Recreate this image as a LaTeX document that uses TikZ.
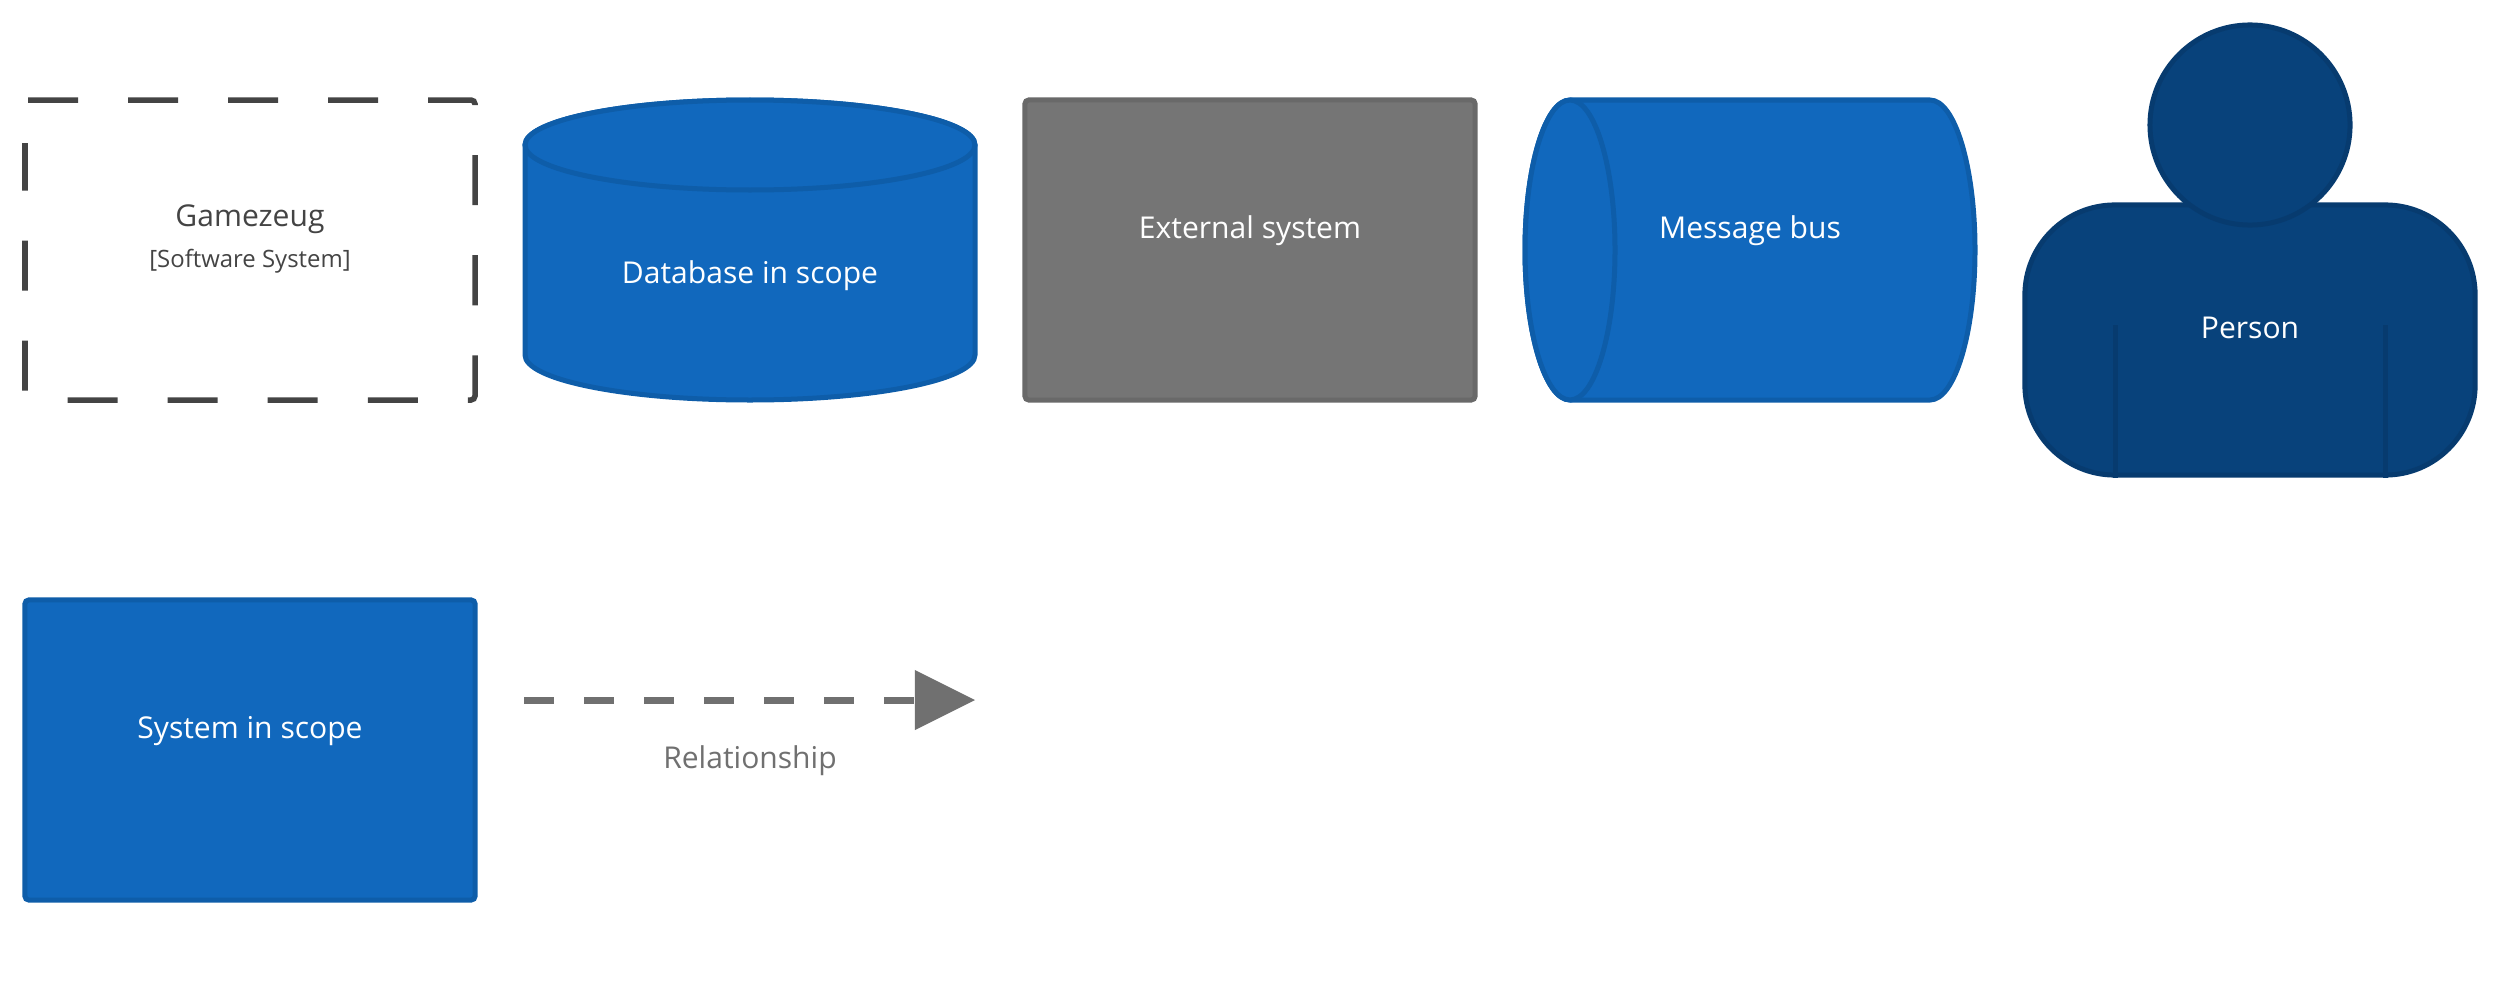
\documentclass[tikz,border=0pt]{standalone}
\usepackage{fontspec}
\setmainfont{Open Sans}
\usetikzlibrary{arrows.meta}
\definecolor{scopeblue}{HTML}{1168BD}
\definecolor{scopeedge}{HTML}{0E5DA9}
\definecolor{extgray}{HTML}{757575}
\definecolor{extedge}{HTML}{696969}
\definecolor{persblue}{HTML}{08427B}
\definecolor{persedge}{HTML}{073B6F}
\definecolor{dashgray}{HTML}{444444}
\definecolor{relgray}{HTML}{707070}
\tikzset{
	boxnode/.style={rectangle,rounded corners=0.04cm,line width=0.05cm,minimum width=4.5cm,minimum height=3cm,inner sep=0pt},
	scopebox/.style={boxnode,draw=scopeedge,fill=scopeblue},
	extbox/.style={boxnode,draw=extedge,fill=extgray},
	scopeshape/.style={draw=scopeedge,fill=scopeblue,line width=0.05cm},
	persshape/.style={draw=persedge,fill=persblue,line width=0.05cm},
	whitetext/.style={text=white,font=\fontsize{8.55pt}{11pt}\selectfont,inner sep=0pt},
}
\begin{document}
\begin{tikzpicture}[x=0.01cm,y=0.01cm]
	\useasboundingbox (0,0) rectangle (2500,-1000);
	% boundary of the system
	\draw[dashgray,line width=0.055cm,rounded corners=0.04cm,dash pattern=on 0.5cm off 0.5cm]
		(28,-100) -- (475,-100) -- (475,-400) -- (25,-400) -- (25,-143);
	\node[text=dashgray,font=\fontsize{8.55pt}{11pt}\selectfont,inner sep=0pt] (gamezeug) at (250,-219) {Gamezeug};
	\node[text=dashgray,font=\fontsize{6.8pt}{8pt}\selectfont,inner sep=0pt] (gamezeugtype) at (250,-261) {[Software System]};
	% database
	\draw[scopeshape] (525,-145) arc[start angle=180,end angle=0,x radius=225,y radius=45]
		-- (975,-355) arc[start angle=0,end angle=-180,x radius=225,y radius=45] -- cycle;
	\draw[scopeshape] (750,-145) ellipse[x radius=225,y radius=45];
	\node[whitetext] (database) at (750,-276) {Database in scope};
	% external system
	\node[extbox] (external) at (1250,-250) {};
	\node[whitetext] (externallabel) at (1250,-231) {External system};
	% message bus
	\draw[scopeshape] (1570,-100) -- (1930,-100) arc[start angle=90,end angle=-90,x radius=45,y radius=150]
		-- (1570,-400) arc[start angle=270,end angle=90,x radius=45,y radius=150] -- cycle;
	\draw[scopeshape] (1570,-250) ellipse[x radius=45,y radius=150];
	\node[whitetext] (bus) at (1750,-231) {Message bus};
	% person
	\node[persshape,rectangle,rounded corners=0.9cm,minimum width=4.5cm,minimum height=2.7cm,inner sep=0pt] (body) at (2250,-340) {};
	\node[persshape,circle,minimum size=2cm,inner sep=0pt] (head) at (2250,-125) {};
	\coordinate (armleft) at (2115,-325);
	\coordinate (armright) at (2385,-325);
	\draw[persedge,line width=0.05cm] (armleft) -- (armleft |- body.south);
	\draw[persedge,line width=0.05cm] (armright) -- (armright |- body.south);
	\node[whitetext] (person) at (2250,-328) {Person};
	% second row
	\node[scopebox] (system) at (250,-750) {};
	\node[whitetext] (systemlabel) at (250,-731) {System in scope};
	\coordinate (relstart) at (524,-700);
	\coordinate (relend) at (975,-700);
	\draw[relgray,line width=0.07cm,dash pattern=on 0.3cm off 0.3cm,-{Triangle[length=0.6cm,width=0.6cm,line width=0pt]}] (relstart) -- (relend);
	\node[text=relgray,font=\fontsize{8.55pt}{11pt}\selectfont,inner sep=0pt] (rellabel) at (750,-761) {Relationship};
\end{tikzpicture}
\end{document}
